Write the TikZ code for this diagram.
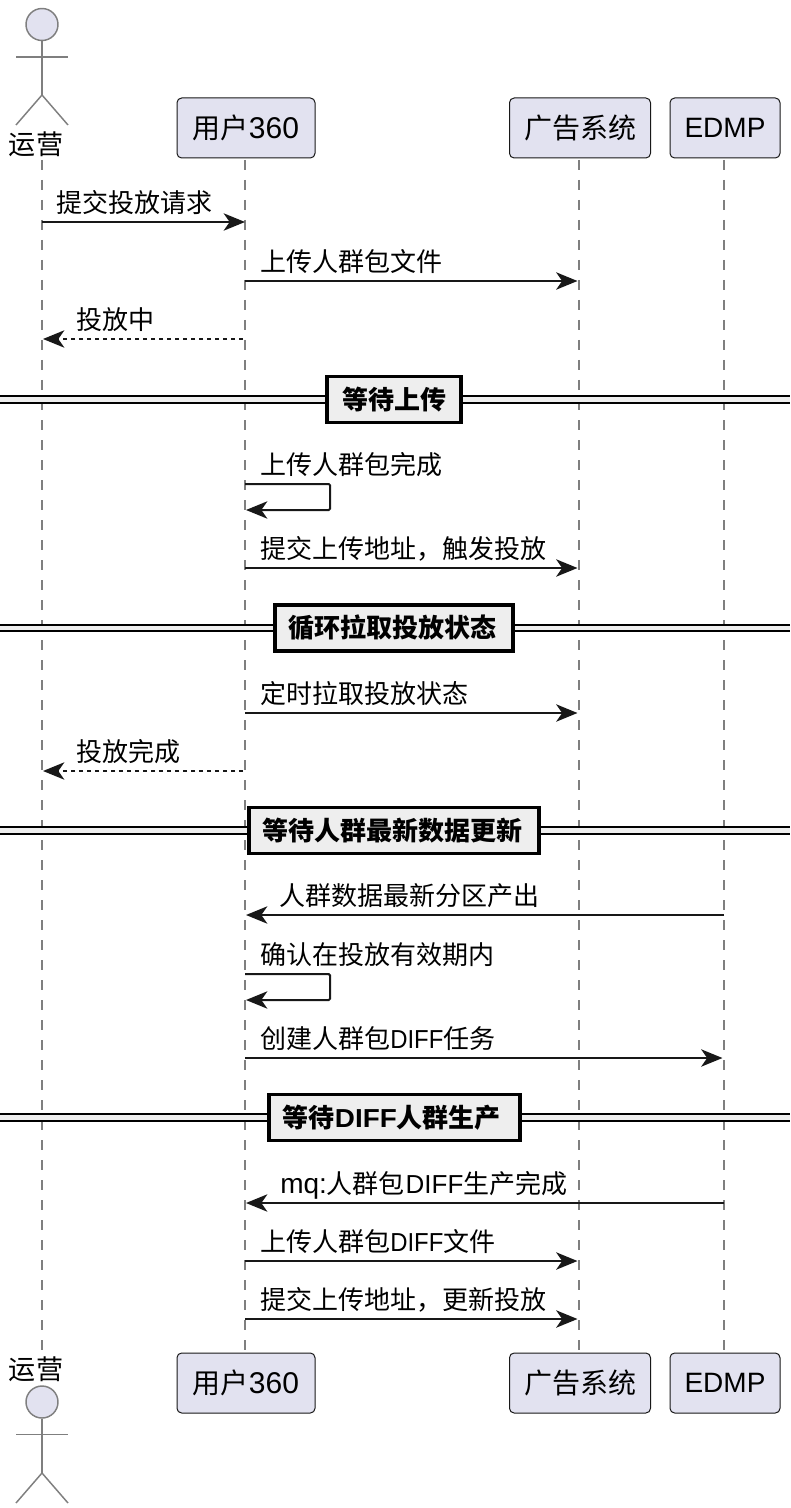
\documentclass[tikz,border=0pt]{standalone}
\usepackage{fontspec}
\setmainfont{Liberation Sans}
\newfontfamily\cjk{Noto Sans CJK SC}
\newfontfamily\diffreg[FakeStretch=0.92]{Liberation Sans}
\newfontfamily\diffbold[FakeStretch=1.07]{Liberation Sans Bold}
\usetikzlibrary{arrows.meta}
\definecolor{boxfill}{HTML}{E2E2F0}
\definecolor{inkdark}{HTML}{181818}
\definecolor{linegray}{HTML}{7F7F7F}
\definecolor{divfill}{HTML}{EEEEEE}
\tikzset{
    lifeline/.style={draw=linegray, line width=1.5pt, dash pattern=on 7.5pt off 7.5pt},
    partbox/.style={draw=inkdark, fill=boxfill, rounded corners=3.5pt, line width=0.75pt,
        minimum height=45pt, inner sep=0pt, font=\fontsize{21}{24}\selectfont, text=black},
    actorname/.style={inner sep=0pt, font=\fontsize{20.3}{24}\selectfont\cjk, text=black},
    actorline/.style={draw=linegray, line width=1.1pt},
    msg/.style={draw=inkdark, line width=1.5pt, -{Stealth[length=16pt,width=13pt,inset=4.5pt]}},
    msgback/.style={msg, dash pattern=on 3.3pt off 2.7pt},
    msglabel/.style={anchor=base west, inner sep=0pt, font=\fontsize{19.5}{24}\selectfont, text=black},
    divbox/.style={draw=black, fill=divfill, line width=2.3pt, inner sep=0pt, minimum height=34.5pt,
        font=\fontsize{19.5}{24}\selectfont\bfseries, text=black}
}
\begin{document}
\begin{tikzpicture}[x=0.75pt, y=-0.75pt]
    \useasboundingbox (0,0) rectangle (790,1508);

    % Ends of the lifelines
    \foreach \id/\x in {a/42,b/245,c/579,d/724} {
        \coordinate (L-\id-top) at (\x,160);
        \coordinate (L-\id-bot) at (\x,1352);
        \draw[lifeline] (L-\id-top) -- (L-\id-bot);
    }

    % Participant boxes, top and bottom row
    \foreach \id/\x/\w/\txt in {b/246/138/{{\cjk 用户}{\fontsize{22.5}{24}\selectfont 360}},c/580/141/{\cjk 广告系统},d/725/110/EDMP} {
        \node[partbox, minimum width=\w*0.75pt] (P-\id-top) at (\x,128) {\txt};
        \node[partbox, minimum width=\w*0.75pt] (P-\id-bot) at (\x,1383) {\txt};
    }

    % Actor at the top
    \node[draw=linegray, fill=boxfill, line width=1.1pt, circle, minimum size=24pt, inner sep=0pt] (A-head-top) at (42,24.5) {};
    \coordinate (A-arm-l-top) at (16,57);
    \coordinate (A-arm-r-top) at (68,57);
    \coordinate (A-hip-top) at (42,95);
    \coordinate (A-leg-l-top) at (16,125);
    \coordinate (A-leg-r-top) at (68,125);
    \draw[actorline] (A-head-top) -- (A-hip-top);
    \draw[actorline] (A-arm-l-top) -- (A-arm-r-top);
    \draw[actorline] (A-leg-l-top) -- (A-hip-top) -- (A-leg-r-top);
    \node[actorname] (A-name-top) at (36,144) {运营};

    % Actor at the bottom
    \node[actorname] (A-name-bot) at (36,1369.5) {运营};
    \node[draw=linegray, fill=boxfill, line width=1.1pt, circle, minimum size=24pt, inner sep=0pt] (A-head-bot) at (42,1402) {};
    \coordinate (A-arm-l-bot) at (16,1434.5);
    \coordinate (A-arm-r-bot) at (68,1434.5);
    \coordinate (A-hip-bot) at (42,1473);
    \coordinate (A-leg-l-bot) at (16,1503);
    \coordinate (A-leg-r-bot) at (68,1503);
    \draw[actorline] (A-head-bot) -- (A-hip-bot);
    \draw[actorline] (A-arm-l-bot) -- (A-arm-r-bot);
    \draw[actorline] (A-leg-l-bot) -- (A-hip-bot) -- (A-leg-r-bot);

    % Dividers across the whole width
    \foreach \i/\y/\lft/\rgt/\txt in {
        1/399.5/327/461/{\cjk 等待上传},
        2/628/275/513/{{\cjk 循环拉取投放状态}\kern3pt},
        3/830.5/249/539/{{\cjk 等待人群最新数据更新}\kern3pt},
        4/1117.5/269/520/{{\cjk 等待}{\diffbold DIFF}{\cjk 人群生产}\kern4pt}} {
        \fill[divfill] (0,\y-3.5) rectangle (790,\y+3.5);
        \coordinate (D-\i-w) at (0,\y);
        \coordinate (D-\i-e) at (790,\y);
        \draw[black, line width=1.5pt] ([yshift=2.6pt]D-\i-w) -- ([yshift=2.6pt]D-\i-e);
        \draw[black, line width=1.5pt] ([yshift=-2.6pt]D-\i-w) -- ([yshift=-2.6pt]D-\i-e);
        \node[divbox, minimum width=(\rgt-\lft)*0.75pt] (D-\i) at ({(\lft+\rgt)/2},\y) {\txt};
    }

    % Solid messages: y, from x, to x, label x, label
    \foreach \i/\y/\fx/\tx/\lx/\txt in {
        1/222/42/245/56/{\cjk 提交投放请求},
        2/281/245/577.5/260/{\cjk 上传人群包文件},
        3/568/245/577.5/260/{\cjk 提交上传地址，触发投放},
        4/713/245/577.5/260/{\cjk 定时拉取投放状态},
        5/915/724/246/279.5/{\cjk 人群数据最新分区产出},
        6/1058/245/722.5/260/{{\cjk 创建人群包}{\diffreg DIFF}{\cjk 任务}},
        7/1203/724/246/280/{{\fontsize{21}{24}\selectfont mq:}{\cjk 人群包}\kern0.5pt DIFF{\cjk 生产完成}},
        8/1261/245/577.5/260/{{\cjk 上传人群包}{\diffreg DIFF}{\cjk 文件}},
        9/1319/245/577.5/260/{\cjk 提交上传地址，更新投放}} {
        \coordinate (M-\i-from) at (\fx,\y);
        \coordinate (M-\i-to) at (\tx,\y);
        \draw[msg] (M-\i-from) -- (M-\i-to);
        \node[msglabel] (M-\i-text) at (\lx,\y-9.5) {\txt};
    }

    % Dashed replies
    \foreach \i/\y/\txt in {1/339/投放中,2/771/投放完成} {
        \coordinate (R-\i-from) at (243,\y);
        \coordinate (R-\i-to) at (43,\y);
        \draw[msgback] (R-\i-from) -- (R-\i-to);
        \node[msglabel] (R-\i-text) at (76,\y-9.5) {\cjk \txt};
    }

    % Messages to itself
    \foreach \i/\y/\txt in {1/484/上传人群包完成,2/974/确认在投放有效期内} {
        \coordinate (S-\i-from) at (245,\y);
        \coordinate (S-\i-to) at (246,\y+26);
        \draw[msg, rounded corners=1pt] (S-\i-from) -- ++(85,0) -- ++(0,26) -- (S-\i-to);
        \node[msglabel] (S-\i-text) at (260,\y-9.5) {\cjk \txt};
    }
\end{tikzpicture}
\end{document}
